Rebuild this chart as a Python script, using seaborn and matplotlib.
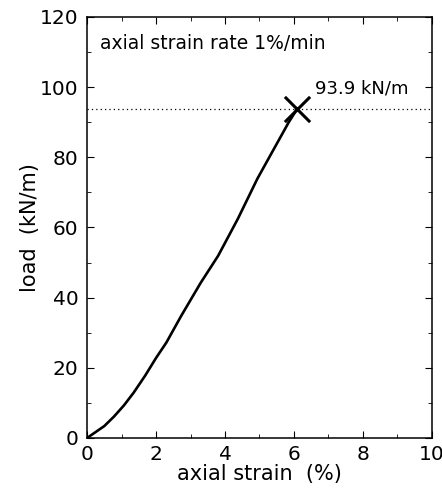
import matplotlib
matplotlib.use("Agg")
import matplotlib.pyplot as plt
import seaborn as sns
import pandas as pd
from matplotlib.ticker import MultipleLocator

strain = [0, 0.25, 0.5, 0.78, 1.07, 1.35, 1.68, 2.0, 2.3, 2.73, 3.3, 3.8, 4.37, 4.94, 5.42, 5.85, 6.1]
load = [0, 1.7, 3.4, 6.1, 9.3, 12.9, 17.7, 22.8, 27.2, 34.8, 44.3, 51.9, 62.4, 73.9, 82.4, 90.0, 93.9]
peak_strain = [6.1]
peak_load = [93.9]
peak_label = "93.9 kN/m"

sns.set_style("ticks")
plt.rcParams['font.family'] = ['DejaVu Sans']
plt.rcParams.update({"text.color": "black", "axes.labelcolor": "black",
                     "xtick.color": "black", "ytick.color": "black"})

df = pd.DataFrame({"strain": strain, "load": load})
fig = plt.figure(figsize=(4.42, 4.93), dpi=100)
ax = fig.add_axes([0.197, 0.1116, 0.78, 0.854])
sns.lineplot(data=df, x="strain", y="load", ax=ax, color="black", linewidth=1.9, sort=False)
ax.axhline(peak_load[0], color="black", linestyle=(0, (1, 2.5)), linewidth=0.9)
sns.scatterplot(x=peak_strain, y=peak_load, ax=ax, marker="x", s=330, color="black", linewidth=2.2)
ax.text(6.6, 99.7, peak_label, fontsize=13, va="center", ha="left")
ax.text(0.38, 112.5, "axial strain rate 1%/min", fontsize=13.5, va="center", ha="left")

ax.set_xlim(0, 10)
ax.set_ylim(0, 120)
ax.xaxis.set_major_locator(MultipleLocator(2))
ax.xaxis.set_minor_locator(MultipleLocator(1))
ax.yaxis.set_major_locator(MultipleLocator(20))
ax.yaxis.set_minor_locator(MultipleLocator(10))
ax.tick_params(which="both", direction="in", top=True, right=True, color="black")
ax.tick_params(which="major", length=5)
ax.tick_params(axis="x", which="major", labelsize=14.5, pad=5)
ax.tick_params(axis="y", which="major", labelsize=14.5, pad=6)
ax.tick_params(which="minor", length=3)
for s in ax.spines.values():
    s.set_color("black")
    s.set_linewidth(1.1)
ax.set_xlabel("axial strain  (%)", fontsize=15, labelpad=0)
ax.set_ylabel("load  (kN/m)", fontsize=15, labelpad=0)
fig.savefig("out.png", dpi=100)
